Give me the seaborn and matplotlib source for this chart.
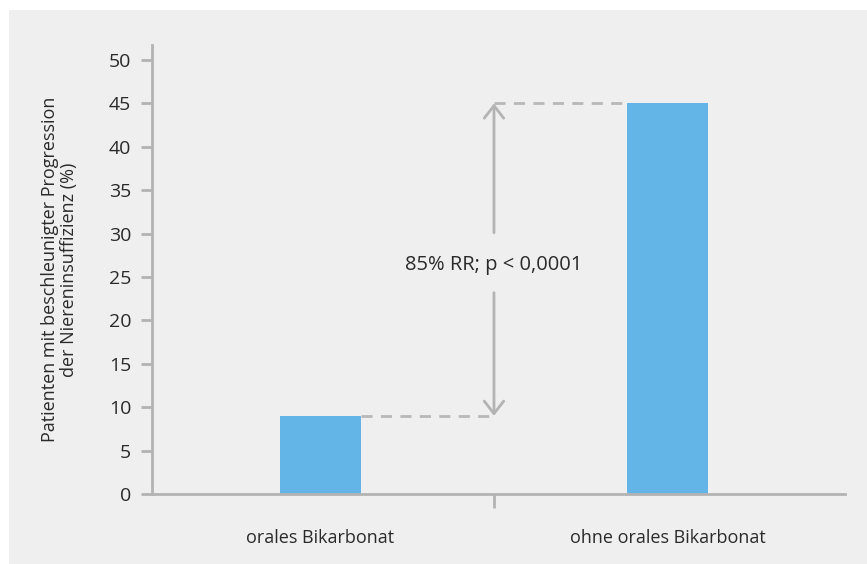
import matplotlib
matplotlib.use("Agg")
import matplotlib.pyplot as plt
import seaborn as sns
import pandas as pd

categories = ["orales Bikarbonat", "ohne orales Bikarbonat"]
values = [9, 45]
yticks = [0, 5, 10, 15, 20, 25, 30, 35, 40, 45, 50]
annotation = "85% RR; p < 0,0001"
ylabel = "Patienten mit beschleunigter Progression\nder Niereninsuffizienz (%)"

sns.set_theme(style="white")
plt.rcParams['font.family'] = ['Open Sans', 'DejaVu Sans']

bg = "#efefef"
axis_col = "#b3b3b3"
bar_col = "#63b5e7"
text_col = "#2a2a2a"

fig = plt.figure(figsize=(8.67, 5.64), dpi=100)
fig.patch.set_facecolor("white")
# gray panel
panel = plt.Rectangle((9 / 867, 0), 1 - 9 / 867, 1 - 10 / 564, transform=fig.transFigure,
                      facecolor=bg, edgecolor="none", zorder=-10)
fig.patches.append(panel)

ax = fig.add_axes([152 / 867, 70 / 564, 693 / 867, 449 / 564])
ax.set_facecolor("none")
ax.set_zorder(1)

df = pd.DataFrame({"cat": categories, "val": values})
sns.barplot(data=df, x="cat", y="val", color=bar_col, saturation=1, width=0.233,
            linewidth=0, edgecolor="none", ax=ax)

ax.set_xlim(-0.483, 1.509)
ax.set_ylim(0, 51.73)

for s in ["top", "right"]:
    ax.spines[s].set_visible(False)
for s in ["left", "bottom"]:
    ax.spines[s].set_color(axis_col)
    ax.spines[s].set_linewidth(2)

ax.set_yticks(yticks)
ax.set_yticklabels([str(v) for v in yticks])
ax.tick_params(axis="y", length=8, width=2, color=axis_col, labelsize=14,
               labelcolor=text_col, pad=7, left=True)
ax.set_xticks([0, 1])
ax.set_xticklabels(categories)
ax.tick_params(axis="x", which="major", length=0, labelsize=13, labelcolor=text_col, pad=25)
ax.set_xticks([0.5], minor=True)
ax.tick_params(axis="x", which="minor", length=10, width=2, color=axis_col, bottom=True)

ax.set_xlabel("")
ax.set_ylabel(ylabel, fontsize=13, color=text_col, labelpad=22, linespacing=1.1)

dash_kw = dict(color="#b8b8b8", lw=2, ls=(0, (4, 3)), zorder=1)
bw = 0.233
ax.plot([0 + bw / 2, 0.5], [values[0], values[0]], **dash_kw)
ax.plot([0.5, 1 - bw / 2], [values[1], values[1]], **dash_kw)

arrow_kw = dict(arrowstyle="->,head_length=0.45,head_width=0.35", color=axis_col, lw=2,
                shrinkA=0, shrinkB=0, mutation_scale=20)
ax.annotate("", xy=(0.5, values[1]), xytext=(0.5, 30.1), arrowprops=arrow_kw)
ax.annotate("", xy=(0.5, values[0]), xytext=(0.5, 23.2), arrowprops=arrow_kw)
ax.text(0.5, 26.4, annotation, ha="center", va="center", fontsize=14.5, color=text_col)

fig.savefig("out.png", dpi=100, facecolor=fig.get_facecolor())
